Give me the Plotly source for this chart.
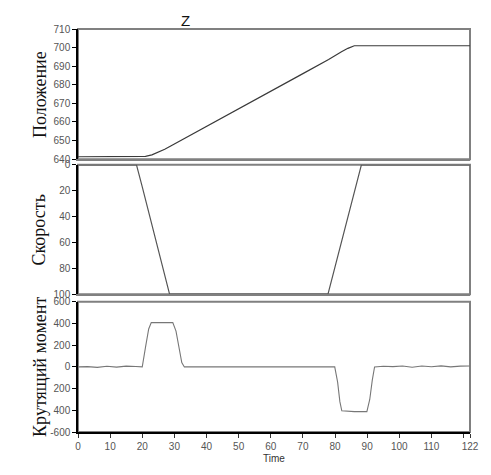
import plotly.graph_objects as go
from plotly.subplots import make_subplots

# ---- data ----
pos_t = [0, 19, 21, 23, 25, 27, 29, 40, 50, 60, 70, 78, 80, 82, 84, 86, 122]
pos_v = [641.3, 641.3, 641.5, 642.3, 643.6, 645.3, 647.2, 657.5, 667, 676.5, 686,
         693.6, 695.8, 697.8, 699.6, 701, 701]

vel_t = [0, 18.2, 20.0, 28.5, 77.8, 88.2, 122]
vel_v = [0, 0, 17, 100, 100, 0, 0]

trq_t = [0, 3, 6, 9, 12, 15, 18, 20.0, 21.0, 22.0, 22.8, 26, 29.5, 30.5, 31.5, 32.3,
         33.1, 40, 60, 79.9, 80.8, 81.5, 82.1, 86, 89.9, 90.8, 91.6, 92.3,
         95, 98, 101, 104, 107, 110, 113, 116, 119, 122]
trq_v = [0, 3, -4, 6, -2, 7, 4, 0, 180, 350, 410, 412, 408, 330, 150, 40,
         0, 0, 0, 0, -140, -320, -405, -412, -412, -300, -120, 0,
         6, 3, 9, -3, 8, 2, 10, 0, 7, 8]

pos_ticks = [640, 650, 660, 670, 680, 690, 700, 710]
vel_ticks = [0, 20, 40, 60, 80, 100]
trq_ticks = [600, 400, 200, 0, -200, -400, -600]
trq_labels = ["600", "400", "200", "0", "200", "400", "-600"]
x_ticks = [0, 10, 20, 30, 40, 50, 60, 70, 80, 90, 100, 110, 120, 122]
x_labels = ["0", "10", "20", "30", "40", "50", "60", "70", "80", "90", "100", "110", "", "122"]

y_titles = ["Положение", "Скорость", "Крутящий момент"]

fig = make_subplots(rows=3, cols=1, shared_xaxes=False)
fig.add_trace(go.Scatter(x=pos_t, y=pos_v, mode="lines", line=dict(color="#3a3a3a", width=1.2)), row=1, col=1)
fig.add_trace(go.Scatter(x=vel_t, y=vel_v, mode="lines", line=dict(color="#555", width=1.2)), row=2, col=1)
fig.add_trace(go.Scatter(x=trq_t, y=trq_v, mode="lines", line=dict(color="#777", width=1.1)), row=3, col=1)

tickfont = dict(family="Liberation Sans, Arial", size=10, color="#555")
domains = [[0.677, 1.0], [0.342, 0.663], [0.0, 0.323]]
for i in range(3):
    xa = "xaxis" if i == 0 else f"xaxis{i+1}"
    ya = "yaxis" if i == 0 else f"yaxis{i+1}"
    last = i == 2
    fig.layout[xa].update(
        range=[0, 122], domain=[0, 1], showgrid=False, zeroline=False,
        showline=True, linecolor="black" if last else "#808080", linewidth=1.5 if last else 2,
        tickvals=x_ticks if last else [], ticktext=x_labels if last else None,
        ticks="outside" if last else "", ticklen=4, tickcolor="#333",
        tickfont=tickfont, showticklabels=last)
    fig.layout[ya].update(domain=domains[i], showgrid=False, zeroline=False,
                          showline=True, linecolor="black", linewidth=1.5,
                          ticks="outside", ticklen=4, tickcolor="black",
                          tickfont=tickfont)
    fig.add_shape(type="rect", xref=f"x{'' if i == 0 else i+1} domain",
                  yref=f"y{'' if i == 0 else i+1} domain",
                  x0=0, x1=1, y0=0, y1=1, line=dict(color="#808080", width=2), layer="below")
    fig.add_annotation(text=y_titles[i], xref="paper", yref="paper",
                       x=-0.097, y=sum(domains[i]) / 2, textangle=-90, showarrow=False,
                       xanchor="center", yanchor="middle",
                       font=dict(family="Liberation Serif, Times New Roman", size=18, color="#111"))

fig.layout.yaxis.update(range=[640, 710], tickvals=pos_ticks)
fig.layout.yaxis2.update(range=[100, 0], tickvals=vel_ticks)
fig.layout.yaxis3.update(range=[-600, 600], tickvals=trq_ticks, ticktext=trq_labels)
fig.layout.xaxis3.update(title=dict(text="Time", font=dict(family="Liberation Sans, Arial", size=10, color="#333"), standoff=4))

fig.add_annotation(text="Z", xref="paper", yref="paper", x=0.274, y=1.022, showarrow=False,
                   xanchor="center", yanchor="middle",
                   font=dict(family="Liberation Sans, Arial", size=15, color="#111"))

fig.update_layout(width=483, height=467, margin=dict(l=70, r=19, t=21, b=37),
                  plot_bgcolor="white", paper_bgcolor="white", showlegend=False)
fig.write_html("out.html")
